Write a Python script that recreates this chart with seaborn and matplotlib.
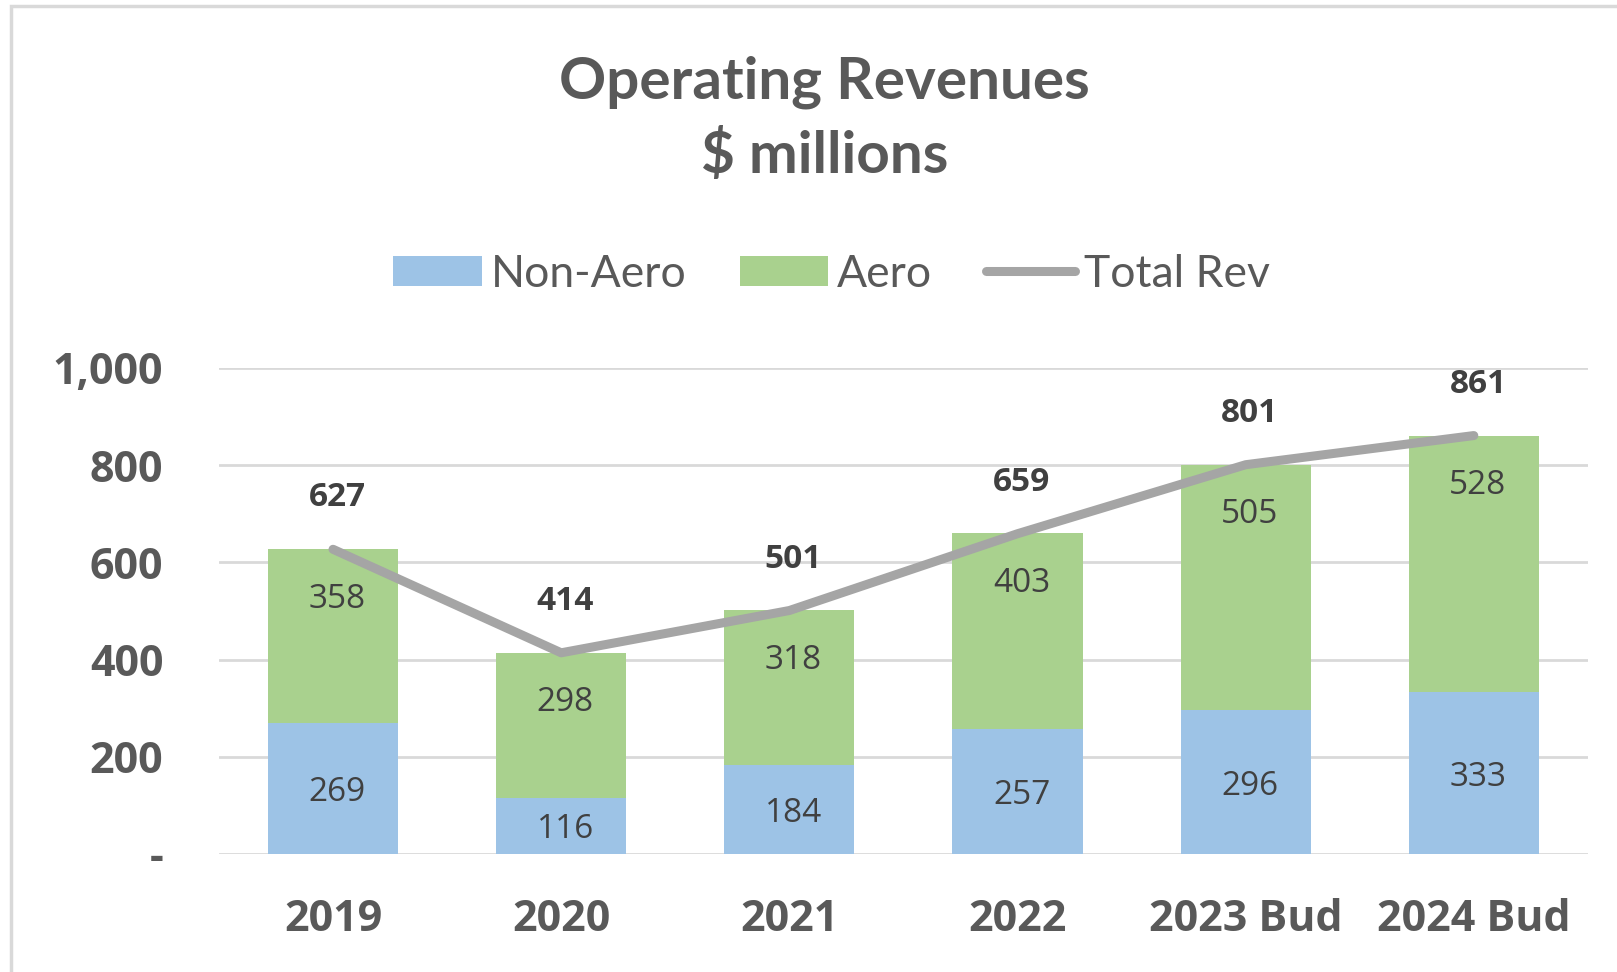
"""
Operating revenues chart: stacked bars (Non-Aero / Aero) with a total line.
"""

import numpy as np
import pandas as pd
import matplotlib.pyplot as plt
import seaborn as sns
from matplotlib.patches import Rectangle

years = ["2019", "2020", "2021", "2022", "2023 Bud", "2024 Bud"]
non_aero = [269, 116, 184, 257, 296, 333]
aero = [358, 298, 318, 403, 505, 528]
total_rev = [627, 414, 501, 659, 801, 861]

BLUE = "#9DC3E6"
GREEN = "#A9D18E"
GREY = "#A5A5A5"
TXT = "#595959"
LBL = "#404040"

sns.set_theme(style="white")
plt.rcParams["font.family"] = ["Open Sans", "DejaVu Sans"]

df = pd.DataFrame({"year": years, "non_aero": non_aero, "aero": aero, "total": total_rev})
df["stack_top"] = df["non_aero"] + df["aero"]

fig = plt.figure(figsize=(16.17, 9.72), dpi=100)
ax = fig.add_axes([0.1354, 0.1214, 0.8466, 0.5])

# stacked look: full stack in green, non-aero drawn over it in blue
sns.barplot(data=df, x="year", y="stack_top", color=GREEN, width=0.57,
            saturation=1, label="Aero", linewidth=0, ax=ax, zorder=2)
sns.barplot(data=df, x="year", y="non_aero", color=BLUE, width=0.57,
            saturation=1, label="Non-Aero", linewidth=0, ax=ax, zorder=2)
sns.lineplot(x=np.arange(len(years)), y=df["total"], color=GREY, linewidth=6.5,
             solid_capstyle="round", label="Total Rev", ax=ax, zorder=3)

ax.set_xlim(-0.5, len(years) - 0.5)
ax.set_ylim(0, 1000)
ax.set_yticks([0, 200, 400, 600, 800, 1000])
ax.set_yticklabels(["-", "200", "400", "600", "800", "1,000"])
ax.set_xlabel("")
ax.set_ylabel("")
ax.grid(axis="y", color="#D9D9D9", linewidth=2, zorder=0)
ax.set_axisbelow(True)
for s in ax.spines.values():
    s.set_visible(False)
ax.tick_params(axis="both", length=0, colors=TXT)
ax.tick_params(axis="y", pad=40, labelsize=31)
ax.tick_params(axis="x", pad=32, labelsize=31)
for t in ax.get_xticklabels() + ax.get_yticklabels():
    t.set_fontweight("bold")
    t.set_color(TXT)

# data labels
for i in range(len(years)):
    ax.annotate(f"{non_aero[i]}", (i, non_aero[i] / 2), xytext=(3, -3),
                textcoords="offset points", ha="center", va="center",
                fontsize=24, color=LBL)
    ax.annotate(f"{aero[i]}", (i, df["stack_top"][i]), xytext=(3, -36),
                textcoords="offset points", ha="center", va="center",
                fontsize=24, color=LBL)
    ax.annotate(f"{total_rev[i]}", (i, total_rev[i]), xytext=(3, 37),
                textcoords="offset points", ha="center", va="center",
                fontsize=24, fontweight="bold", color=LBL, annotation_clip=False)

# legend in Non-Aero, Aero, Total Rev order
handles, labels = ax.get_legend_handles_labels()
order = [labels.index(n) for n in ["Non-Aero", "Aero", "Total Rev"]]
leg = fig.legend([handles[k] for k in order], [labels[k] for k in order],
                 loc="center", bbox_to_anchor=(0.514, 0.718), ncol=3,
                 frameon=False, handlelength=2.0, handleheight=0.65,
                 handletextpad=0.2, columnspacing=1.2,
                 prop={"family": ["Lato", "DejaVu Sans"], "size": 32})
for t in leg.get_texts():
    t.set_color(TXT)
if ax.get_legend():
    ax.get_legend().remove()

fig.text(0.510, 0.915, "Operating Revenues", ha="center", va="center",
         fontsize=42, fontweight="bold", color=TXT, family=["Lato", "DejaVu Sans"])
fig.text(0.510, 0.839, "$ millions", ha="center", va="center",
         fontsize=42, fontweight="bold", color=TXT, family=["Lato", "DejaVu Sans"])

# light chart-area frame (top and left edges visible)
fig.patches.append(Rectangle((0.0065, -0.05), 1.1, 1.044, transform=fig.transFigure,
                             fill=False, edgecolor="#D9D9D9", linewidth=2.5))

fig.savefig("out.png", dpi=100, facecolor="white")
